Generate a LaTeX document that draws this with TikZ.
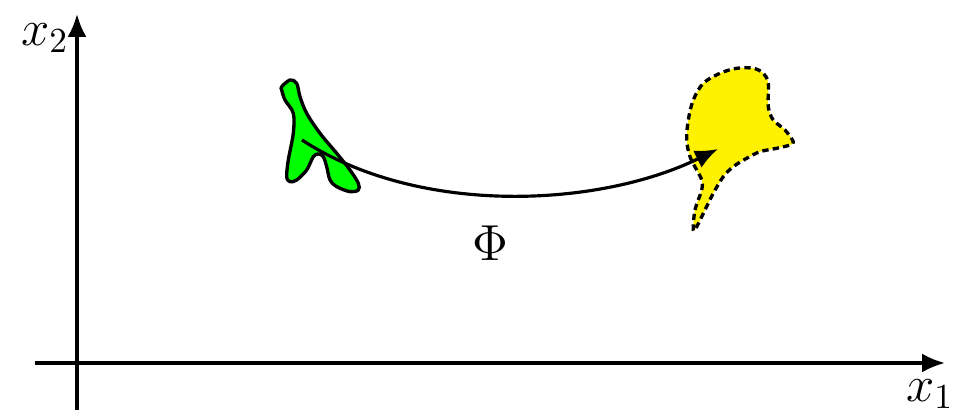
\documentclass[tikz,border=0pt]{standalone}
\usepackage{tikz}
\usetikzlibrary{arrows.meta}

\begin{document}
\begin{tikzpicture}[x=0.01cm,y=-0.01cm,
axis/.style={-{Latex[length=6.5pt,width=5.4pt]},line width=0.95pt},
lbl/.style={font=\fontsize{14.5}{17}\selectfont,inner sep=0pt},
blob/.style={line width=0.95pt,line join=round},
map/.style={-{Latex[length=6.5pt,width=5.4pt]},line width=0.9pt}]
\useasboundingbox (0,0) rectangle (953,419);
% axes
\coordinate (xstart) at (35,363);
\coordinate (xend) at (945,363);
\coordinate (ystart) at (77,410);
\coordinate (yend) at (77,14);
\draw[axis] (xstart) -- (xend);
\draw[axis] (ystart) -- (yend);
\node[lbl] (xone) at (930,394) {$x_1$};
\node[lbl] (xtwo) at (45,38) {$x_2$};
% source region
\draw[blob,fill=green] plot[smooth cycle,tension=0.55] coordinates {
(281.7,86.7) (290,80) (296.7,83.3) (300,96.7) (306.7,113.3) (320,133.3)
(336.7,153.3) (350,170) (358.3,183.3) (358.3,190) (350,191.7) (336.7,186.7)
(330,180) (326.7,166.7) (323.3,156.7) (318.3,154) (313.3,156.7) (306.7,170)
(296.7,180) (290,181.7) (286.7,176.7) (288.3,160) (293.3,133.3) (293.3,113.3)
(285,100) (281.7,90)};
% image region
\draw[blob,dash pattern=on 1.8pt off 1.2pt,fill=yellow] plot[smooth cycle,tension=0.55] coordinates {
(693.3,230) (695,210) (701.7,190) (701.7,180) (696.7,170) (690,156.7)
(686.7,140) (688.3,120) (693.3,100) (703.3,83.3) (720,73.3) (736.7,68.3)
(753.3,68.3) (763.3,73.3) (768.3,83.3) (768.3,106.7) (773.3,120) (785,130)
(793.3,141.7) (790,145) (776.7,148.3) (760,151.7) (746.7,158.3) (733.3,166.7)
(723.3,176.7) (713.3,193.3) (705,210) (696.7,226.7)};
% mapping
\coordinate (src) at (302,140);
\coordinate (dst) at (718,149);
\draw[map] (src) .. controls (420,217) and (600,207) .. (dst);
\node[lbl] (phi) at (490,243) {$\Phi$};
\end{tikzpicture}
\end{document}
